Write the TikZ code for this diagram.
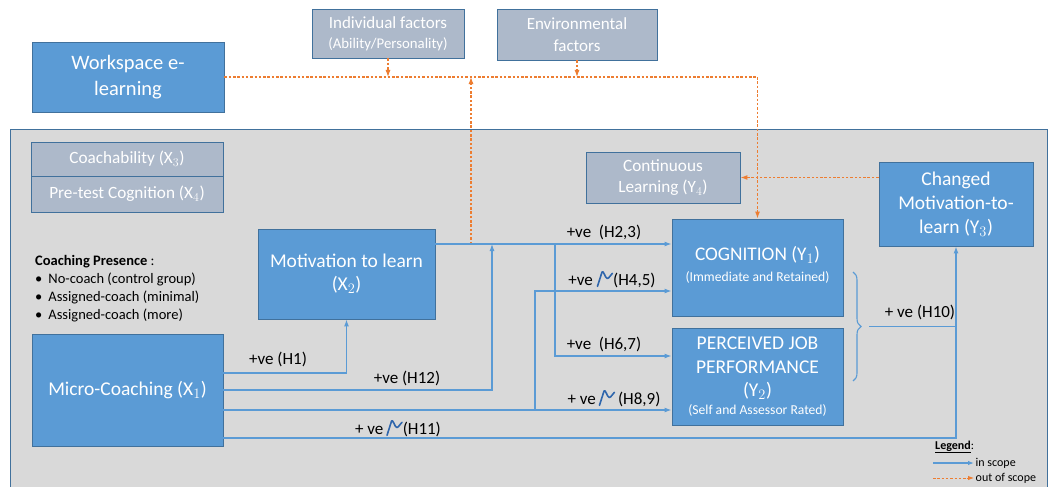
\documentclass[tikz,border=0pt]{standalone}
\usepackage{fontspec}
\setmainfont{Carlito}
\usetikzlibrary{arrows.meta,decorations.pathreplacing}
\definecolor{boxblue}{HTML}{5B9BD5}
\definecolor{boxedge}{HTML}{41719C}
\definecolor{boxgray}{HTML}{ADB9CA}
\definecolor{scopegray}{HTML}{D9D9D9}
\definecolor{outorange}{HTML}{ED7D31}
\definecolor{wavyblue}{HTML}{2F66AC}
\tikzset{
  bluebox/.style={draw=boxedge, fill=boxblue, line width=0.9pt, text=white,
                  align=center, inner sep=2pt},
  graybox/.style={bluebox, fill=boxgray},
  ins/.style={draw=boxblue, line width=1.1pt, -{Latex[length=7pt,width=5pt]}},
  oos/.style={draw=outorange, line width=1.1pt, dash pattern=on 2.5pt off 1.8pt,
              -{Latex[length=7pt,width=5pt]}},
  hyp/.style={font=\fontsize{17}{20}\selectfont, inner sep=0pt},
  wavyline/.style={draw=wavyblue, line width=1.6pt, line cap=round, line join=round},
}
\newcommand{\fs}[2]{\fontsize{#1}{#2}\selectfont}
\newcommand{\wavy}{\tikz[baseline=0pt,x=1.3pt,y=1.3pt]\draw[wavyline] (0,-1) -- (3.5,10)
  .. controls (4.5,12) and (6,5) .. (7.5,5) .. controls (9,5) and (10,8) .. (11.5,9);}

\begin{document}
\begin{tikzpicture}[x=1pt,y=-1pt]
  \useasboundingbox (0,0) rectangle (1052,487);
  % scope area
  \fill[scopegray] (10,129) rectangle (1047,500);
  \draw[boxedge, line width=0.9pt] (10,500) -- (10,129) -- (1047,129) -- (1047,500);

  % outside boxes
  \node[bluebox, minimum width=192pt, minimum height=70pt, font=\fs{20.5}{26}] (elearn) at (128,77) {Workspace e-\\learning};
  \node[graybox, minimum width=152pt, minimum height=49pt, font=\fs{17}{20}] (indiv) at (388,33.5) {Individual factors\\{\fs{14.8}{17}(Ability/Personality)}};
  \node[graybox, minimum width=160pt, minimum height=51pt, font=\fs{17}{21.5}] (env) at (577,34.5) {Environmental\\factors};

  % inside boxes
  \node[graybox, minimum width=192pt, minimum height=34pt, font=\fs{17.2}{20}] (coach) at (127,159) {Coachability (X$_3$)};
  \node[graybox, minimum width=192pt, minimum height=36pt, font=\fs{17.2}{20}] (pretest) at (127,194) {Pre-test Cognition (X$_4$)};
  \node[graybox, minimum width=154pt, minimum height=51pt, font=\fs{17.2}{21}] (contl) at (663,177.5) {Continuous\\Learning (Y$_4$)};
  \node[bluebox, minimum width=154pt, minimum height=84pt, font=\fs{19.5}{24}] (chmot) at (956,204) {Changed\\Motivation-to-\\learn (Y$_3$)};
  \node[bluebox, minimum width=177pt, minimum height=90pt, font=\fs{19.5}{22.5}] (motiv) at (346.5,274) {Motivation to learn\\(X$_2$)};
  \node[bluebox, minimum width=191pt, minimum height=112pt, font=\fs{19.5}{22}] (micro) at (127.5,390) {Micro-Coaching (X$_1$)};
  \node[bluebox, minimum width=171pt, minimum height=97pt] (cog) at (757.5,267.5) {};
  \node[font=\fs{19.3}{20.5}, text=white, align=center, anchor=north, inner sep=0pt] (cogtxt) at ([yshift=-28pt]cog.north) {COGNITION (Y$_1$)\\{\fs{13.6}{15}(Immediate and Retained)}};
  \node[bluebox, minimum width=171pt, minimum height=97pt, font=\fs{19.5}{23.5}] (pjp) at (757.5,376.5) {PERCEIVED JOB\\PERFORMANCE\\(Y$_2$)\\[-6pt]{\fs{13.6}{15}(Self and Assessor Rated)}};

  \node[anchor=north west, align=left, inner sep=0pt, font=\fs{14.5}{18}] (presence) at (35,255)
    {\textbf{Coaching Presence} :\\
     \textbullet\hspace{6pt}No-coach (control group)\\
     \textbullet\hspace{6pt}Assigned-coach (minimal)\\
     \textbullet\hspace{6pt}Assigned-coach (more)};

  % out of scope links
  \draw[oos] (elearn.east) -| (cog.north);
  \draw[oos] (indiv.south) -- (indiv.south |- elearn.east);
  \draw[oos] (env.south) -- (env.south |- elearn.east);
  \coordinate (mout) at (435,244);
  \coordinate (mup) at (471,244);
  \draw[oos] (mup) -- (mup |- elearn.east);
  \draw[oos] (chmot.west |- contl.east) -- (contl.east);

  % in scope links
  \coordinate (split) at (555,244);
  \coordinate (j12) at (492,244);
  \coordinate (j45) at (535,410);
  \draw[ins] (mout) -- (cog.west |- mout);
  \draw[ins] (split) |- ([yshift=20.5pt]pjp.west);
  \draw[ins] ([yshift=17pt]micro.east) -| (motiv.south);
  \draw[ins] (micro.east) -| (j12);
  \draw[ins] ([yshift=-20pt]micro.east) -- ([yshift=-33.5pt]pjp.west);
  \draw[ins] (j45) |- ([yshift=-23.5pt]cog.west);
  \draw[ins] ([yshift=-48pt]micro.east) -| (chmot.south);
  \draw[draw=boxblue, line width=1.1pt, decorate, decoration={brace, amplitude=8pt}]
    (853,272) -- (853,381);
  \coordinate (tip) at (869,326.5);
  \draw[draw=boxblue, line width=1.1pt] (tip) -- (chmot.south |- tip);

  % hypothesis labels
  \node[hyp] (h1) at (278,359) {+ve (H1)};
  \node[hyp] (h12) at (407,378) {+ve (H12)};
  \node[hyp] (h23) at (604,232) {+ve\ \ (H2,3)};
  \node[hyp] (h45) at (612,278) {+ve \wavy(H4,5)};
  \node[hyp] (h67) at (604,344) {+ve\ \ (H6,7)};
  \node[hyp] (h89) at (614,397) {+ ve\,\wavy\,(H8,9)};
  \node[hyp] (h11) at (398,427) {+ ve\,\wavy(H11)};
  \node[hyp] (h10) at (920,312) {+ ve (H10)};

  % legend
  \node[anchor=west, inner sep=0pt, font=\fs{12}{14}] (legend) at (935,447) {\textbf{\underline{Legend}}:};
  \coordinate (lg1) at (933,463);
  \coordinate (lg2) at (933,478);
  \draw[ins, -{Latex[length=6pt,width=4.5pt]}] (lg1) -- ++(41,0) coordinate (lg1e);
  \draw[oos, line width=0.9pt, -{Latex[length=6pt,width=4.5pt]}] (lg2) -- ++(41,0) coordinate (lg2e);
  \node[anchor=west, inner sep=1.5pt, font=\fs{12}{14}] (lgin) at (lg1e) {in scope};
  \node[anchor=west, inner sep=1.5pt, font=\fs{12}{14}] (lgout) at (lg2e) {out of scope};
\end{tikzpicture}
\end{document}
